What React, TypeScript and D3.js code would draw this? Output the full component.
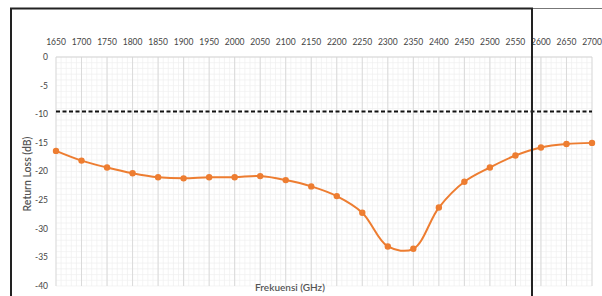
import React, { useRef, useEffect } from 'react';
import * as d3 from 'd3';

// frequency (MHz) and measured return loss (dB)
const freqs = [1650, 1700, 1750, 1800, 1850, 1900, 1950, 2000, 2050, 2100, 2150,
  2200, 2250, 2300, 2350, 2400, 2450, 2500, 2550, 2600, 2650, 2700];
const returnLoss = [-16.4, -18.1, -19.3, -20.3, -21.0, -21.2, -21.0, -21.0, -20.8, -21.5, -22.6,
  -24.3, -27.2, -33.1, -33.5, -26.3, -21.8, -19.3, -17.2, -15.8, -15.2, -15.0];
const yTicks = [0, -5, -10, -15, -20, -25, -30, -35, -40];
const threshold = -9.5;

const App = () => {
  const ref = useRef<SVGSVGElement>(null);

  useEffect(() => {
    const width = 602;
    const height = 296;
    const left = 56, right = 592, top = 57, bottom = 286;
    const font = 'Lato, "Open Sans", sans-serif';
    const textColor = '#444';

    const svg = d3.select(ref.current);
    svg.selectAll('*').remove();
    svg.attr('width', width).attr('height', height);

    svg.append('rect').attr('width', width).attr('height', height).attr('fill', '#fff');

    const x = d3.scaleLinear().domain([1650, 2700]).range([left, right]);
    const y = d3.scaleLinear().domain([0, -40]).range([top, bottom]);

    // minor grid
    const grid = svg.append('g');
    grid.selectAll('line.vminor')
      .data(d3.range(1650, 2701, 10))
      .enter().append('line')
      .attr('x1', d => x(d)).attr('x2', d => x(d))
      .attr('y1', top).attr('y2', bottom)
      .attr('stroke', '#efefef').attr('stroke-width', 0.7);
    grid.selectAll('line.hminor')
      .data(d3.range(0, -40.5, -1))
      .enter().append('line')
      .attr('x1', left).attr('x2', right)
      .attr('y1', d => y(d)).attr('y2', d => y(d))
      .attr('stroke', '#efefef').attr('stroke-width', 0.7);
    // major vertical grid
    grid.selectAll('line.vmajor')
      .data(freqs)
      .enter().append('line')
      .attr('x1', d => x(d)).attr('x2', d => x(d))
      .attr('y1', top).attr('y2', bottom)
      .attr('stroke', '#dadada').attr('stroke-width', 1);
    grid.append('line')
      .attr('x1', left).attr('x2', right)
      .attr('y1', top).attr('y2', top)
      .attr('stroke', '#d4d4d4');

    // x tick labels on top
    svg.append('g').selectAll('text')
      .data(freqs)
      .enter().append('text')
      .attr('x', d => x(d)).attr('y', top - 12)
      .attr('text-anchor', 'middle')
      .attr('font-family', font).attr('font-size', 8.5)
      .attr('fill', textColor)
      .text(d => d);

    // y tick labels
    svg.append('g').selectAll('text')
      .data(yTicks)
      .enter().append('text')
      .attr('x', left - 8).attr('y', d => y(d))
      .attr('dy', '0.35em')
      .attr('text-anchor', 'end')
      .attr('font-family', font).attr('font-size', 8.5)
      .attr('fill', textColor)
      .text(d => d);

    // threshold dashed line
    svg.append('line')
      .attr('x1', left).attr('x2', right)
      .attr('y1', y(threshold)).attr('y2', y(threshold))
      .attr('stroke', '#111').attr('stroke-width', 2)
      .attr('stroke-dasharray', '4,2.5');

    // series
    const pts = freqs.map((f, i) => [f, returnLoss[i]] as [number, number]);
    const line = d3.line<[number, number]>()
      .x(d => x(d[0])).y(d => y(d[1]))
      .curve(d3.curveCatmullRom.alpha(0.5));
    svg.append('path')
      .datum(pts)
      .attr('d', line)
      .attr('fill', 'none')
      .attr('stroke', '#ED7D31').attr('stroke-width', 2);
    svg.append('g').selectAll('circle')
      .data(pts)
      .enter().append('circle')
      .attr('cx', d => x(d[0])).attr('cy', d => y(d[1]))
      .attr('r', 3.2).attr('fill', '#ED7D31');

    // axis titles
    svg.append('text')
      .attr('transform', `translate(27,174) rotate(-90)`)
      .attr('text-anchor', 'middle').attr('dy', '0.35em')
      .attr('font-family', font).attr('font-size', 10.5).attr('font-weight', 600)
      .attr('fill', '#555')
      .text('Return Loss (dB)');
    svg.append('text')
      .attr('x', 290).attr('y', 291)
      .attr('text-anchor', 'middle')
      .attr('font-family', font).attr('font-size', 10).attr('font-weight', 600)
      .attr('fill', '#555')
      .text('Frekuensi (GHz)');

    // frame lines of the screenshot
    svg.append('line').attr('x1', 532).attr('x2', 602).attr('y1', 8.5).attr('y2', 8.5)
      .attr('stroke', '#777').attr('stroke-width', 1.2);
    svg.append('path')
      .attr('d', 'M11,296 V8.5 H532 V296')
      .attr('fill', 'none').attr('stroke', '#222').attr('stroke-width', 2);
  }, []);

  return (
    <svg ref={ref} style={{ position: 'absolute', left: 0, top: 0 }}></svg>
  );
};

export default App;
